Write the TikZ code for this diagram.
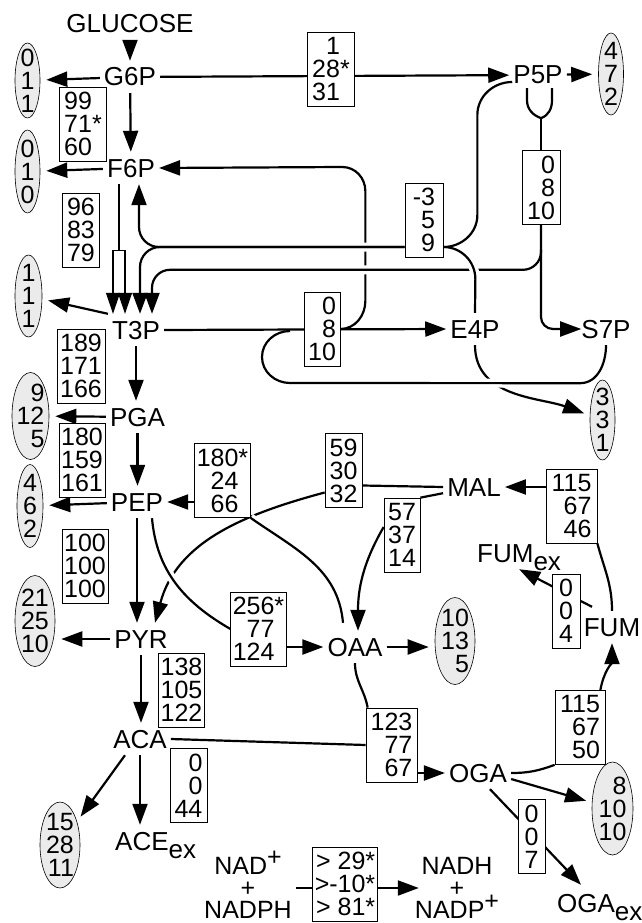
\documentclass[tikz,border=0pt]{standalone}
\usepackage{fontspec}
\setmainfont{Liberation Sans}
\usetikzlibrary{arrows.meta, calc, positioning, shapes.geometric, backgrounds}

\tikzset{
  met/.style={font=\fontsize{26}{23}\selectfont, inner xsep=4pt, inner ysep=7pt, text height=18pt, text depth=0pt},
  flux/.style={draw, line width=0.7pt, fill=white, align=right, font=\fontsize{25}{23}\selectfont, inner xsep=2pt, inner ysep=5pt, minimum height=74pt},
  pool/.style={ellipse, draw, line width=0.6pt, fill=black!8, inner sep=0pt},
  num/.style={align=right, font=\fontsize{25}{23}\selectfont, inner sep=0pt},
  stack/.style={align=center, font=\fontsize{25}{22}\selectfont, inner sep=4pt},
  ln/.style={line width=2.2pt},
  arr/.style={ln, -{Triangle[length=21pt, width=15pt]}},
  drain/.style={arr, shorten >=6pt},
  thinarr/.style={line width=1.2pt, -{Triangle[length=21pt, width=14pt]}},
  halo/.style={preaction={draw=white, line width=9pt, -}},
}

\begin{document}
\begin{tikzpicture}[x=1pt, y=-1pt]
  \useasboundingbox (0,0) rectangle (641,923);

  % metabolites
  \node[met] (glc) at (130,24) {GLUCOSE};
  \node[met] (g6p) at (130,77) {G6P};
  \node[met] (f6p) at (131,168) {F6P};
  \node[met] (t3p) at (136,330) {T3P};
  \node[met] (pga) at (137.5,417) {PGA};
  \node[met] (pep) at (137,502) {PEP};
  \node[met] (pyr) at (141,639) {PYR};
  \node[met] (aca) at (140,739) {ACA};
  \node[met, anchor=west] (aceex) at (111,841) {ACE\raisebox{-8pt}{ex}};
  \node[met] (p5p) at (538,75) {P5P};
  \node[met] (e4p) at (475,329) {E4P};
  \node[met] (s7p) at (606,329) {S7P};
  \node[met] (mal) at (474,487) {MAL};
  \node[met] (oaa) at (355,647) {OAA};
  \node[met] (fum) at (612,627) {FUM};
  \node[met, anchor=west] (fumex) at (473,553) {FUM\raisebox{-8pt}{ex}};
  \node[met] (oga) at (478,773) {OGA};
  \node[met, anchor=west] (ogaex) at (553,903) {OGA\raisebox{-8pt}{ex}};
  \node[stack] (nadl) at (248,888) {NAD\smash{\raisebox{9pt}{+}}\\+\\NADPH};
  \node[stack] (nadr) at (457,888) {NADH\\+\\NADP\smash{\raisebox{9pt}{+}}};

  % flux boxes
  \node[flux, minimum width=47pt] (vppp) at (331,69) {1\phantom{*}\\28*\\31\phantom{*}};
  \node[flux, minimum width=47pt] (vpgi) at (83,124) {99\phantom{*}\\71*\\60\phantom{*}};
  \node[flux, minimum width=37pt] (vpfk) at (81,230) {96\\83\\79};
  \node[flux, minimum width=48pt] (vgap) at (81,366) {189\\171\\166};
  \node[flux] (veno) at (82,460) {180\\159\\161};
  \node[flux] (vpyk) at (85,566) {100\\100\\100};
  \node[flux] (vpdh) at (181.5,690) {138\\105\\122};
  \node[flux, minimum width=37pt] (vace) at (188.5,785.5) {0\\0\\44};
  \node[flux, minimum width=38pt] (vtka) at (541,187.5) {0\\8\\10};
  \node[flux, minimum width=38pt] (vtkb) at (424,220) {-3\\5\\9};
  \node[flux, minimum width=36pt] (vtal) at (322,329) {0\\8\\10};
  \node[flux] (vpck) at (222.5,480.5) {180*\\24\phantom{*}\\66\phantom{*}};
  \node[flux] (vppc) at (258.5,629) {256*\\77\phantom{*}\\124\phantom{*}};
  \node[flux, minimum width=37pt] (vmae) at (343.5,470.5) {59\\30\\32};
  \node[flux, minimum width=36pt] (vmdh) at (402,535) {57\\37\\14};
  \node[flux, minimum width=51pt] (vfum) at (571.5,506) {115\\67\\46};
  \node[flux, minimum width=28pt] (vfex) at (566,611) {0\\0\\4};
  \node[flux, minimum width=50pt] (vakg) at (580,727.5) {115\\67\\50};
  \node[flux, minimum width=51pt] (vcs) at (391.5,745) {123\\77\\67};
  \node[flux, minimum width=27pt] (voex) at (531.5,836.5) {0\\0\\7};
  \node[flux, minimum height=72pt] (vtrans) at (345,884) {> 29*\\>-10*\\> 81*};

  % drains to biomass
  \node[pool, minimum width=25pt, minimum height=75pt, label={[num]center:{0\\1\\1}}] (xg6p) at (27.5,80.5) {};
  \node[pool, minimum width=25pt, minimum height=83pt, label={[num]center:{0\\1\\0}}] (xf6p) at (27.5,171.5) {};
  \node[pool, minimum width=25pt, minimum height=82pt, label={[num]center:{4\\7\\2}}] (xp5p) at (611,74) {};
  \node[pool, minimum width=27pt, minimum height=82pt, label={[num]center:{1\\1\\1}}] (xt3p) at (28.5,296) {};
  \node[pool, minimum width=37pt, minimum height=87pt, label={[num]center:{9\\12\\5}}] (xpga) at (30.5,416) {};
  \node[pool, minimum width=26pt, minimum height=83pt, label={[num]center:{4\\6\\2}}] (xpep) at (30,506) {};
  \node[pool, minimum width=40pt, minimum height=91pt, label={[num]center:{21\\25\\10}}] (xpyr) at (35,621) {};
  \node[pool, minimum width=40pt, minimum height=87pt, label={[num]center:{10\\13\\5}}] (xoaa) at (455,641) {};
  \node[pool, minimum width=25pt, minimum height=80pt, label={[num]center:{3\\3\\1}}] (xe4p) at (602.5,420) {};
  \node[pool, minimum width=40pt, minimum height=86pt, label={[num]center:{15\\28\\11}}] (xaca) at (60,845) {};
  \node[pool, minimum width=41pt, minimum height=93pt, label={[num]center:{8\\10\\10}}] (xoga) at (612.5,808.5) {};

  % arrow tips on T3P
  \coordinate (t3a) at ($(t3p.north)+(-23,0)$);
  \coordinate (t3b) at ($(t3p.north)+(-11,0)$);
  \coordinate (t3c) at ($(t3p.north)+(4,0)$);
  \coordinate (t3d) at ($(t3p.north)+(16,0)$);
  \coordinate (f6pbar) at ($(f6p.south)+(-12,66)$);
  \coordinate (fork) at ($(vtka.north)+(0,-32)$);

  \begin{scope}[on background layer]
    % glycolysis top
    \draw[arr] (glc) -- (g6p);
    \draw[arr] (g6p) -- (f6p);
    \draw[arr] (g6p) -- (p5p);
    \draw[drain] (g6p) -- (xg6p);
    \draw[drain] (f6p) -- (xf6p);
    \draw[drain] (p5p) -- (xp5p);
    % F6P -> 2 T3P
    \draw[line width=1.2pt] ($(f6p.south)+(-12,0)$) -- (f6pbar) (t3a |- f6pbar) -- (t3b |- f6pbar);
    \draw[thinarr] (t3a |- f6pbar) -- (t3a);
    \draw[thinarr] (t3b |- f6pbar) -- (t3b);
    % back to F6P
    \draw[arr] (vtal.east) to[out=0,in=-90] ++(25,-28) -- ++(0,-110) to[out=90,in=0] ++(-23,-24) -- (f6p.east);
    % pentose phosphate branches
    \draw[arr, halo, rounded corners=18pt] ($(vtka.south)+(0,25)$) |- ($(t3d)+(0,-44)$) -- (t3d);
    \draw[arr, halo, rounded corners=20pt] ($(vtkb.west)+(0,27)$) -| ($(f6p.south)+(8,0)$);
    \draw[arr, rounded corners=20pt] ($(vtkb.west)+(0,27)$) -| (t3c);
    \draw[arr, rounded corners=12pt] (vtka.south) |- ($(s7p.west)+(4,0)$);
    \draw[ln] ($(p5p.south)+(-11,-3)$) -- ++(0,12) to[out=-90,in=160] (fork) to[out=20,in=-90] ($(p5p.south)+(14,9)$) -- ++(0,-12);
    \draw[ln] (fork) -- (vtka.north);
    \draw[ln, halo] ($(vtkb.east)+(0,27)$) to[out=0,in=90] ++(32,32) -- (e4p.north);
    \draw[ln] ($(vtkb.east)+(0,27)$) to[out=0,in=-90] ++(34,-32) -- ++(0,-100) to[out=90,in=180] ($(p5p.west)+(3,7)$);
    \draw[drain] (e4p.south) to[out=-90,in=160] (xe4p);
    \draw[ln, halo] (s7p.south) to[out=-90,in=0] ++(-26,38) -- (290,383) to[out=180,in=-90] ++(-28,-26) to[out=90,in=180] ++(28,-26);
    \draw[arr] (t3p.east) -- (e4p.west);
    % lower glycolysis
    \draw[drain] (t3p.north west) -- (xt3p);
    \draw[arr] (t3p.south) -- (t3p.south |- pga.north);
    \draw[drain] (pga) -- (xpga);
    \draw[arr] (pga.south) -- (pga.south |- pep.north);
    \draw[drain] (pep) -- (xpep);
    \draw[arr] (pep.south) -- (pep.south |- pyr.north);
    % anaplerotic reactions
    \draw[ln] (mal.west) -- ($(vmae.east)+(0,15)$);
    \draw[arr] ($(vmae.west)+(0,22)$) to[out=195,in=75] ($(pyr.north)+(14,0)$);
    \draw[ln, halo] ($(oaa.north)+(-12,-8)$) to[out=95,in=-35] (vpck.south east);
    \draw[arr] (vpck.west |- pep) -- (pep.east);
    \draw[ln, halo] ($(pep.south)+(15,0)$) to[out=-85,in=150] (vppc.west);
    \draw[arr] (vppc.east |- oaa) -- (oaa.west);
    \draw[ln] ($(mal.south west)+(0,-10)$) -- (vmdh.north east);
    \draw[arr] ($(vmdh.west)+(0,-8)$) to[out=240,in=90] ($(oaa.north)+(3,0)$);
    \draw[drain] (oaa.east) -- (oaa.east -| xoaa.west);
    % TCA cycle
    \draw[ln] (oaa.south) to[out=-90,in=100] ($(vcs.north west)+(2,0)$);
    \draw[ln] (aca.east) -- (vcs.west);
    \draw[arr] (vcs.east |- oga) -- (oga.west);
    \draw[ln] (oga.east) to[out=0,in=200] (vakg.south west);
    \draw[arr] ($(vakg.north east)+(-5,0)$) to[out=80,in=-90] (fum.south);
    \draw[ln] (fum.north) to[out=90,in=-75] (vfum.south east);
    \draw[arr] (vfum.west |- mal) -- (mal.east);
    \draw[arr] ($(fum.north)+(-20,-4)$) -- (fumex.south);
    \draw[drain] ($(oga.east)+(0,6)$) -- (xoga);
    \draw[arr] ($(oga.south)+(12,0)$) -- ($(ogaex.north west)+(28,-2)$);
    % PYR and ACA
    \draw[drain] (pyr.west) -- (pyr.west -| xpyr.east);
    \draw[arr] (pyr.south) -- (pyr.south |- aca.north);
    \draw[drain] ($(aca.south)+(-15,0)$) -- (xaca);
    \draw[arr] (aca.south) -- (aca.south |- aceex.north);
    % transhydrogenase
    \draw[arr] (nadl.east) -- ($(nadr.west)+(8,0)$);
  \end{scope}
\end{tikzpicture}
\end{document}
